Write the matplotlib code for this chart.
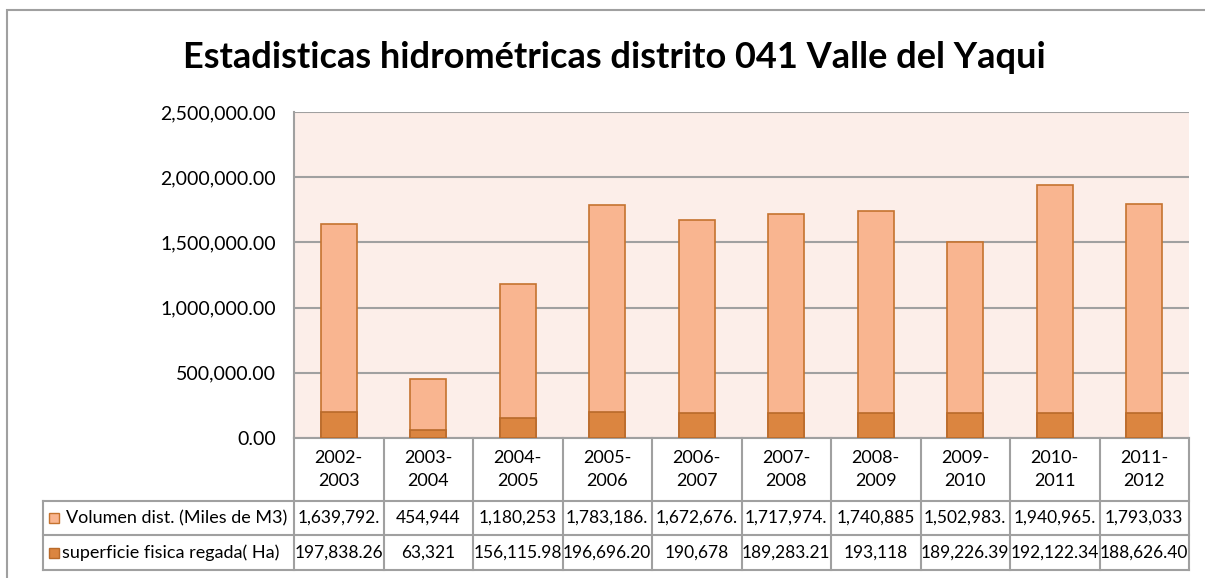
import matplotlib
matplotlib.use("Agg")
import matplotlib.pyplot as plt
from matplotlib.transforms import blended_transform_factory
from matplotlib.patches import Rectangle

# --- data -------------------------------------------------------------
categorias = ["2002-\n2003", "2003-\n2004", "2004-\n2005", "2005-\n2006", "2006-\n2007",
              "2007-\n2008", "2008-\n2009", "2009-\n2010", "2010-\n2011", "2011-\n2012"]
volumen = [1639792, 454944, 1180253, 1783186, 1672676,
           1717974, 1740885, 1502983, 1940965, 1793033]
superficie = [197838.26, 63321, 156115.98, 196696.20, 190678,
              189283.21, 193118, 189226.39, 192122.34, 188626.40]
volumen_txt = ["1,639,792.", "454,944", "1,180,253", "1,783,186.", "1,672,676.",
               "1,717,974.", "1,740,885", "1,502,983.", "1,940,965.", "1,793,033"]
superficie_txt = ["197,838.26", "63,321", "156,115.98", "196,696.20", "190,678",
                  "189,283.21", "193,118", "189,226.39", "192,122.34", "188,626.40"]
serie_nombres = ["Volumen dist. (Miles de M3)", "superficie fisica regada( Ha)"]
y_ticks = [0, 500000, 1000000, 1500000, 2000000, 2500000]
titulo = "Estadisticas hidrométricas distrito 041 Valle del Yaqui"

# --- style ------------------------------------------------------------
W, H = 1205, 578
FONT = "Lato"
c_vol, c_vol_edge = "#F9B590", "#C5732F"
c_sup, c_sup_edge = "#DB8540", "#B96A2A"
c_line = "#A0A0A0"
c_bg = "#FCEEE9"

fig = plt.figure(figsize=(W / 100, H / 100), dpi=100)
fig.patch.set_facecolor("white")


def fx(px):
    return px / W


def fy(py):
    return 1 - py / H


# chart outer border
fig.add_artist(Rectangle((fx(7), fy(600)), fx(1230), 590 / H,
                         transform=fig.transFigure, fill=False,
                         edgecolor=c_line, lw=1.5))

left, right, top, bottom = 294, 1189, 112, 438
ax = fig.add_axes([fx(left), fy(bottom), fx(right - left), (bottom - top) / H])
ax.set_facecolor(c_bg)

x = list(range(len(categorias)))
ax.bar(x, volumen, width=0.4, color=c_vol, edgecolor=c_vol_edge, lw=1.2, zorder=3)
ax.bar(x, superficie, width=0.4, color=c_sup, edgecolor=c_sup_edge, lw=1.2, zorder=4)

ax.set_xlim(-0.5, len(categorias) - 0.5)
ax.set_ylim(0, 2500000)
ax.set_yticks(y_ticks)
ax.set_yticklabels([f"{v:,.2f}" for v in y_ticks], fontsize=14, family=FONT)
ax.tick_params(axis="y", length=0, pad=13)
ax.set_xticks([])
ax.grid(axis="y", color=c_line, lw=1.5, zorder=1)
for side in ["top", "right", "bottom"]:
    ax.spines[side].set_visible(False)
ax.spines["left"].set_color(c_line)
ax.spines["left"].set_linewidth(1.5)

fig.text(fx(614), fy(57), titulo, ha="center", va="center",
         fontsize=26, fontweight="bold", family=FONT)

# --- data table -------------------------------------------------------
tr = blended_transform_factory(ax.transData, fig.transFigure)
row_y = [438, 501, 535, 570]
n = len(categorias)
x0, x1 = -0.5, n - 0.5
lkw = dict(color=c_line, lw=1.5, clip_on=False)

# horizontal rules
ax.plot([x0, x1], [fy(row_y[0])] * 2, transform=tr, **lkw)
for ry in row_y[1:]:
    fig.add_artist(plt.Line2D([fx(43), fx(right)], [fy(ry)] * 2,
                              transform=fig.transFigure, color=c_line, lw=1.5))
# vertical rules
for i in range(n + 1):
    ax.plot([x0 + i] * 2, [fy(row_y[0]), fy(row_y[-1])], transform=tr, **lkw)
fig.add_artist(plt.Line2D([fx(43)] * 2, [fy(row_y[1]), fy(row_y[-1])],
                          transform=fig.transFigure, color=c_line, lw=1.5))

tkw = dict(ha="center", va="center", family=FONT, transform=tr)
for i in range(n):
    ax.text(i, fy((row_y[0] + row_y[1]) / 2), categorias[i], linespacing=1.6,
            fontsize=13, **tkw)
    ax.text(i, fy((row_y[1] + row_y[2]) / 2), volumen_txt[i], fontsize=12.5, **tkw)
    ax.text(i, fy((row_y[2] + row_y[3]) / 2), superficie_txt[i], fontsize=12.5, **tkw)

# legend keys in the first column
text_x = [66, 62]
for r, (name, fc, ec) in enumerate(zip(serie_nombres, [c_vol, c_sup], [c_vol_edge, c_sup_edge])):
    cy = (row_y[r + 1] + row_y[r + 2]) / 2
    fig.add_artist(Rectangle((fx(49), fy(cy + 5)), fx(10), 10 / H,
                             transform=fig.transFigure, facecolor=fc,
                             edgecolor=ec, lw=1.0))
    fig.text(fx(text_x[r]), fy(cy), name, ha="left", va="center",
             fontsize=13, family=FONT)

fig.savefig("out.png", dpi=100)
